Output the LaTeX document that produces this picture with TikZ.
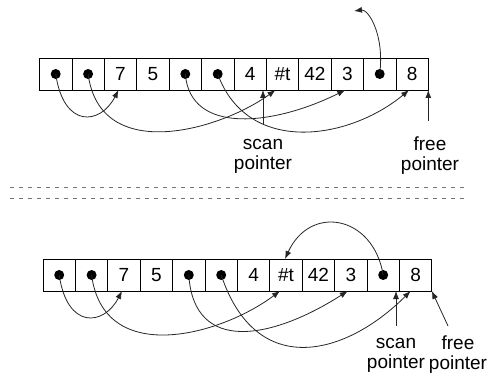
\documentclass[tikz,border=0pt]{standalone}
\usepackage{fontspec}
\setmainfont{Liberation Sans}
\usepackage{tikz}
\usetikzlibrary{arrows.meta, positioning, calc}

\tikzset{
  cell/.style={draw, line width=0.7pt, minimum width=32.4pt, minimum height=32pt,
    inner sep=0pt, outer sep=0pt, font=\fontsize{19}{20}\selectfont},
  ptr/.style={-{Latex[length=8pt,width=6pt]}, line width=0.8pt, black!85},
  lbl/.style={align=center, inner sep=0pt, font=\fontsize{19}{20}\selectfont},
  dashline/.style={dash pattern=on 4pt off 5pt, line width=0.8pt, black!55},
}

\begin{document}
\begin{tikzpicture}[x=1pt, y=-1pt]
  \useasboundingbox (0,0) rectangle (495,377);

  % Memory before the copy step
  \foreach \v [count=\i from 0] in {{},{},7,5,{},{},4,\#t,42,3,{},8}
    \node[cell] (t\i) at ({39.5+32.4*(\i+0.5)},74) {\v};
  \foreach \c in {0,1,4,5,10}
    \fill (t\c) circle (5pt);

  % Pointers in the top row
  \draw[ptr] (t0.center) .. controls +(8,55) and +(-18,35) .. ([xshift=-2pt]t2.south);
  \draw[ptr] (t1.center) .. controls +(12,91) and +(-55,40) .. ([xshift=-7pt]t7.south);
  \draw[ptr] (t4.center) .. controls +(5,62) and +(-70,35) .. ([xshift=-2pt]t9.south);
  \draw[ptr] (t5.center) .. controls +(30,82) and +(-60,50) .. ([xshift=-3pt]t11.south);
  \coordinate (up) at (354,11);
  \draw[ptr] (t10.center) .. controls +(5,-40) and +(14,-2) .. (up);

  % Scan and free pointers
  \node[lbl] (scan1) at (263,156) {scan\\pointer};
  \node[lbl] (free1) at (430,156) {free\\pointer};
  \draw[ptr, shorten <=14pt] (scan1.north) -- (scan1.north |- t0.south);
  \draw[ptr, shorten <=16pt] (t11.south east |- free1.north) -- (t11.south east);

  % Divider
  \draw[dashline] (10,187) -- (465,187);
  \draw[dashline] (10,198) -- (465,198);

  % Memory after the copy step
  \foreach \v [count=\i from 0] in {{},{},7,5,{},{},4,\#t,42,3,{},8}
    \node[cell] (b\i) at ({43+32.4*(\i+0.5)},275) {\v};
  \foreach \c in {0,1,4,5,10}
    \fill (b\c) circle (5pt);

  % Pointers in the bottom row
  \draw[ptr] (b0.center) .. controls +(8,55) and +(-18,35) .. ([xshift=-2pt]b2.south);
  \draw[ptr] (b1.center) .. controls +(12,92) and +(-60,45) .. ([xshift=-6pt]b7.south);
  \draw[ptr] (b4.center) .. controls +(5,80) and +(-75,48) .. ([xshift=-3pt]b9.south);
  \draw[ptr] (b5.center) .. controls +(35,105) and +(-65,65) .. ([xshift=-5pt]b11.south);
  \draw[ptr] (b10.center) .. controls +(-10,-60) and +(25,-55) .. ([xshift=-1pt]b7.north);

  % Scan and free pointers
  \node[lbl] (scan2) at (396,355) {scan\\pointer};
  \node[lbl] (free2) at (458,355) {free\\pointer};
  \draw[ptr, shorten <=12pt] (scan2.north) -- (scan2.north |- b0.south);
  \draw[ptr] ([shift={(-10pt,10pt)}]free2.north) -- (b11.south east);
\end{tikzpicture}
\end{document}
